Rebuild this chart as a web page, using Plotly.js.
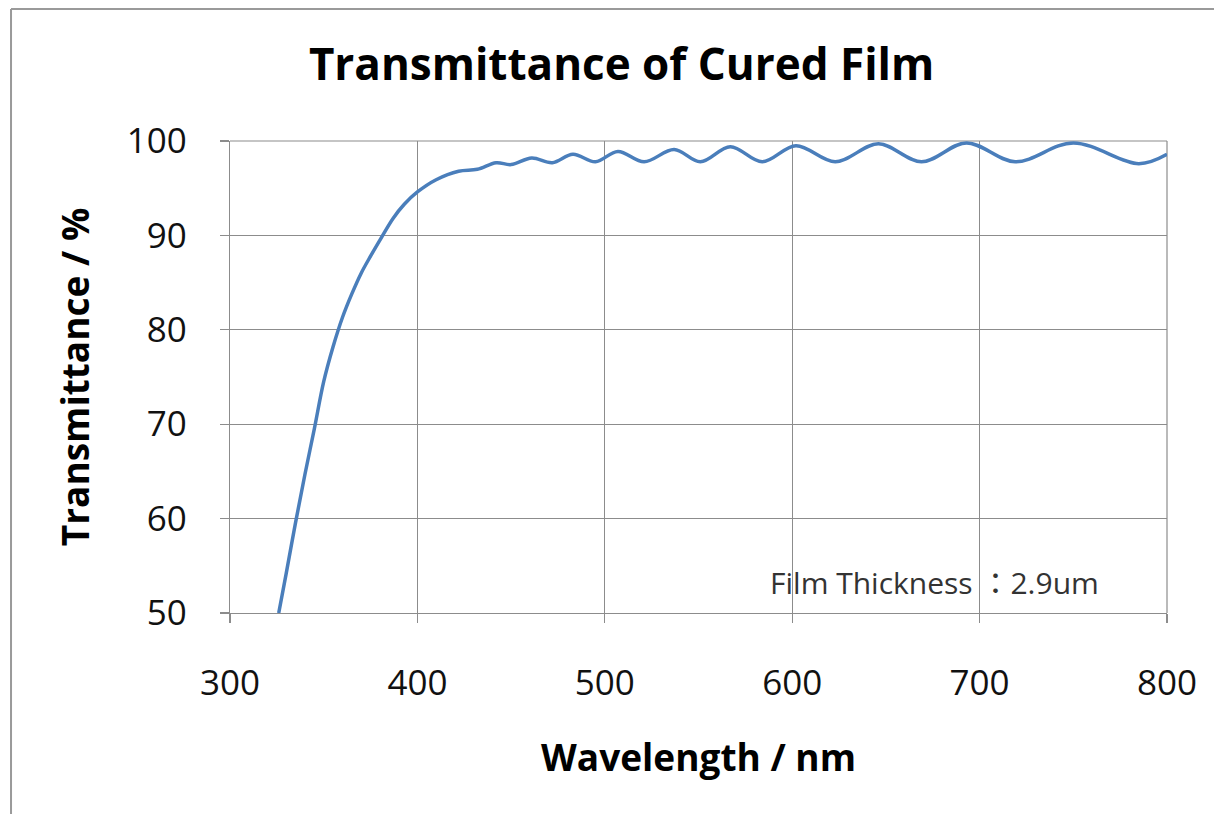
<!DOCTYPE html>
<html>
<head>
<meta charset="utf-8">
<script src="https://cdn.plot.ly/plotly-3.0.1.min.js"></script>
<style>html,body{margin:0;padding:0;background:#fff;}#chart{width:1214px;height:814px;}</style>
</head>
<body>
<div id="chart"></div>
<script>
// Wavelength (nm)
var wavelength = [326, 330, 335, 340, 345, 350, 355, 360, 365, 370, 375, 380, 387, 393, 400, 410, 422, 432, 442, 450, 461, 472, 483, 495, 507, 521, 537, 551, 567, 584, 602, 623, 646, 669, 693, 719, 750, 785, 800];
// Transmittance (%)
var transmittance = [50, 54.2, 59.6, 64.7, 69.5, 74.5, 78.2, 81.3, 83.8, 86.0, 87.8, 89.5, 91.8, 93.3, 94.6, 95.9, 96.8, 97.0, 97.7, 97.5, 98.2, 97.7, 98.6, 97.8, 98.9, 97.8, 99.1, 97.8, 99.4, 97.8, 99.5, 97.8, 99.7, 97.8, 99.8, 97.8, 99.8, 97.6, 98.6];

var xTicks = [300, 400, 500, 600, 700, 800];
var yTicks = [50, 60, 70, 80, 90, 100];

var titleText = "Transmittance of Cured Film";
var xTitle = "Wavelength / nm";
var yTitle = "Transmittance / %";
var noteText = "Film Thickness \uFF1A2.9um";
var noteX = 587;
var noteY = 53.2;

var trace = {
  x: wavelength,
  y: transmittance,
  type: "scatter",
  mode: "lines",
  line: {color: "#4a7ebb", width: 3.5, shape: "spline", smoothing: 1},
  hoverinfo: "x+y"
};

var fam = "'Open Sans', Lato, sans-serif";
var axisFont = {family: fam, size: 35, color: "#111"};
var titleFont = {family: fam, size: 37, color: "#000"};

var layout = {
  width: 1214,
  height: 814,
  paper_bgcolor: "#fff",
  plot_bgcolor: "#fff",
  margin: {l: 230, r: 47, t: 141, b: 201},
  showlegend: false,
  title: {
    text: "<b>" + titleText + "</b>",
    font: {family: fam, size: 44, color: "#000"},
    x: 0.512, xref: "container", xanchor: "center",
    y: 0.921, yref: "container", yanchor: "middle"
  },
  xaxis: {
    range: [300, 800],
    tickvals: xTicks,
    ticktext: xTicks.map(String),
    showgrid: true, gridcolor: "#8c8c8c", gridwidth: 1.2,
    showline: true, linecolor: "#8c8c8c", linewidth: 1.2,
    ticks: "outside", ticklen: 9, tickcolor: "#8c8c8c", tickwidth: 1.2,
    tickfont: axisFont,
    ticklabelstandoff: 30,
    zeroline: false,
    title: {text: "<b>" + xTitle + "</b>", font: titleFont, standoff: 40}
  },
  yaxis: {
    range: [50, 100],
    tickvals: yTicks,
    ticktext: yTicks.map(String),
    showgrid: true, gridcolor: "#8c8c8c", gridwidth: 1.2,
    showline: true, linecolor: "#8c8c8c", linewidth: 1.2,
    ticks: "outside", ticklen: 9, tickcolor: "#8c8c8c", tickwidth: 1.2,
    tickfont: axisFont,
    ticklabelstandoff: 26,
    zeroline: false,
    title: {text: "<b>" + yTitle + "</b>", font: titleFont, standoff: 25}
  },
  annotations: [{
    x: noteX, y: noteY, xref: "x", yref: "y",
    text: noteText, showarrow: false, xanchor: "left", yanchor: "middle",
    font: {family: "'Open Sans', 'Noto Sans CJK JP', sans-serif", size: 30, color: "#333"}
  }],
  shapes: [
    {type: "line", xref: "paper", yref: "paper", x0: -0.2337, x1: -0.2337, y0: -0.45, y1: 1.2797, line: {color: "#9a9a9a", width: 2}},
    {type: "line", xref: "paper", yref: "paper", x0: -0.2337, x1: 1.06, y0: 1.2797, y1: 1.2797, line: {color: "#9a9a9a", width: 2}},
    {type: "line", xref: "paper", yref: "paper", x0: 0, x1: 1, y0: 1, y1: 1, line: {color: "#8c8c8c", width: 1.2}, layer: "below"},
    {type: "line", xref: "paper", yref: "paper", x0: 1, x1: 1, y0: 0, y1: 1, line: {color: "#8c8c8c", width: 1.2}, layer: "below"}
  ]
};

Plotly.newPlot("chart", [trace], layout, {displayModeBar: false, staticPlot: true});
</script>
</body>
</html>
